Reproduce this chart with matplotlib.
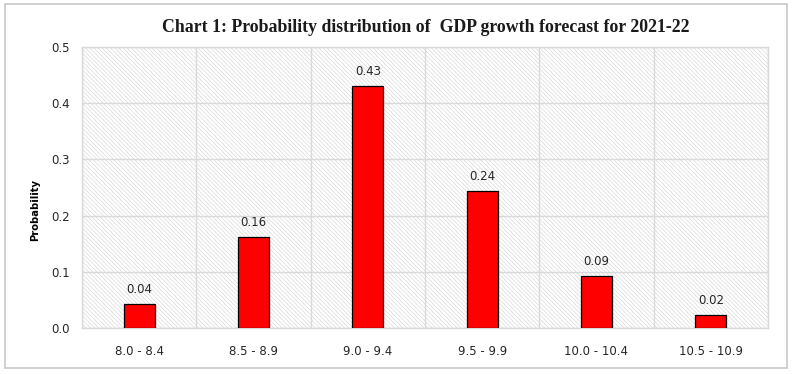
import matplotlib.pyplot as plt
from matplotlib.patches import Rectangle
import numpy as np

# Data
categories = ['8.0 - 8.4', '8.5 - 8.9', '9.0 - 9.4', '9.5 - 9.9', '10.0 - 10.4', '10.5 - 10.9']
probabilities = [0.043, 0.162, 0.430, 0.244, 0.093, 0.023]
y_ticks = [0.0, 0.1, 0.2, 0.3, 0.4, 0.5]

GRID = '#d9d9d9'
plt.rcParams['hatch.color'] = '#dadada'
plt.rcParams['hatch.linewidth'] = 0.5

fig = plt.figure(figsize=(7.92, 3.74), dpi=100)
ax = fig.add_axes([82 / 792, 1 - 328 / 374, (768 - 82) / 792, (328 - 47) / 374])

# hatched plot area (fine diagonal pattern)
ax.patch.set_facecolor('white')
ax.add_patch(Rectangle((0, 0), 1, 1, transform=ax.transAxes, facecolor='white',
                       hatch='\\' * 8, edgecolor='#dadada', linewidth=0, zorder=0))

x = np.arange(len(categories))
bars = ax.bar(x, probabilities, width=0.27, color='#ff0000', edgecolor='black', linewidth=0.9, zorder=3)

for xi, v in zip(x, probabilities):
    ax.text(xi, v + 0.014, f'{v:.2f}', ha='center', va='bottom', fontsize=8.5,
            family='DejaVu Sans', color='#262626', zorder=4)

ax.set_xlim(-0.5, len(categories) - 0.5)
ax.set_ylim(0, 0.5)
ax.set_yticks(y_ticks)
ax.set_yticklabels([f'{t:.1f}' for t in y_ticks])
ax.set_xticks(x)
ax.set_xticklabels(categories)
ax.set_xticks(np.arange(-0.5, len(categories)), minor=True)
ax.tick_params(axis='both', which='both', length=0, labelsize=8.5, colors='#262626')
ax.tick_params(axis='x', pad=12)
ax.tick_params(axis='y', pad=9)

ax.grid(axis='y', color=GRID, linewidth=1, zorder=1)
ax.grid(axis='x', which='minor', color=GRID, linewidth=1, zorder=1)
ax.grid(axis='x', which='major', visible=False)
for s in ax.spines.values():
    s.set_color(GRID)
    s.set_linewidth(1)

ax.set_ylabel('Probability', fontsize=7.2, fontweight='bold', color='black')
ax.yaxis.set_label_coords(-0.061, 0.42)

fig.text(426 / 792, 1 - 27 / 374, 'Chart 1: Probability distribution of  GDP growth forecast for 2021-22',
         ha='center', va='center', fontsize=12.8, fontweight='bold', family='Liberation Serif', color='#1a1a1a')

# figure border
fig.add_artist(Rectangle((5 / 792, 1 - 368 / 374), (787 - 5) / 792, (368 - 4) / 374,
                         transform=fig.transFigure, fill=False, edgecolor='#c8c8c8', linewidth=1.2))

fig.savefig('out.png', dpi=100)
